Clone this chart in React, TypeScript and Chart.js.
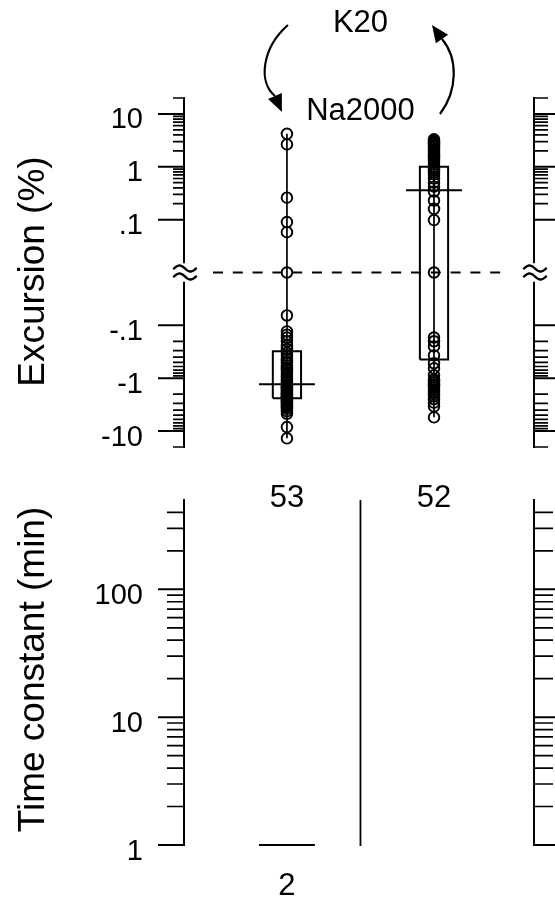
import React, { useEffect, useRef } from "react";
import { Chart, LinearScale, registerables } from "chart.js";

Chart.register(...registerables);

// ---------------- data ----------------
const transitions = ["K20 → Na2000", "Na2000 → K20"];
const solutionNames = ["K20", "Na2000"];

// excursion (%) of each response
const excursionK20ToNa2000 = [
  4.2, 2.65, 0.26, 0.09, 0.058, 0, -0.065,
  -0.13, -0.15, -0.17, -0.2, -0.24, -0.28,
  -0.33, -0.37, -0.42, -0.47, -0.52, -0.58, -0.64, -0.7, -0.78, -0.86, -0.95, -1.05, -1.18,
  -1.3,
  -1.38, -1.45, -1.52, -1.6, -1.68, -1.76, -1.85, -1.93, -2.0, -2.1, -2.2, -2.28, -2.36,
  -2.45, -2.55, -2.65, -2.8, -2.95, -3.1, -3.3, -3.5, -3.8, -4.2, -4.7,
  -8.4, -13.7,
];
const excursionNa2000ToK20 = [
  3.3, 3.15, 3.0, 2.85, 2.7, 2.55, 2.4, 2.25, 2.1, 1.95, 1.8, 1.7, 1.6, 1.5, 1.4, 1.3,
  1.2, 1.1, 1.0, 0.93, 0.86, 0.79, 0.72,
  0.6, 0.5, 0.42, 0.34, 0.23, 0.16, 0.098,
  0,
  -0.17, -0.2, -0.25, -0.37, -0.52, -0.65, -0.88,
  -1.05, -1.12, -1.2, -1.3, -1.4, -1.5, -1.65, -1.8, -2.0, -2.2, -2.5, -2.9, -3.4,
  -5.5,
];
const excursionUpperQuartile = [-0.31, 1.0];
const excursionMedian = [-1.3, 0.36];
const excursionLowerQuartile = [-2.4, -0.44];
const excursionCounts = ["53", "52"];

const timeConstantMedian: (number | null)[] = [1, null];
const timeConstantCounts = ["2", ""];

// axis ticks
const excursionRange = [-20, 20];
const excursionMajorTicks = [10, 1, 0.1, -0.1, -1, -10];
const excursionMajorLabels = ["10", "1", ".1", "-.1", "-1", "-10"];
const excursionMinorTicks = [
  20, 9, 8, 7, 6, 5, 4, 3, 2, 0.9, 0.8, 0.7, 0.6, 0.5, 0.4, 0.3, 0.2,
  -0.2, -0.3, -0.4, -0.5, -0.6, -0.7, -0.8, -0.9, -2, -3, -4, -5, -6, -7, -8, -9, -20,
];
const timeConstantRange = [1, 500];
const timeConstantMajorTicks = [1, 10, 100];
const timeConstantMajorLabels = ["1", "10", "100"];
const timeConstantMinorTicks = [2, 3, 4, 5, 6, 7, 8, 9, 20, 30, 40, 50, 60, 70, 80, 90, 200, 300, 400];

const excursionTitle = "Excursion (%)";
const timeConstantTitle = "Time constant (min)";

// ---------------- styles ----------------
const INK = "#000";
const FONT = '"Liberation Sans", Arial, Helvetica, sans-serif';
const TICK_FONT = 29;
const TITLE_FONT = 37;
const NOTE_FONT = 31;
const BOX_HALF = 0.096;
const MEDIAN_HALF = 0.19;
const X_MIN = -0.7;
const X_MAX = 1.68;

// symmetric log axis with a break at zero (|v| = 0.01 maps onto 0)
const toSymT = (v: number) => (v === 0 ? 0 : Math.sign(v) * (Math.log10(Math.abs(v)) + 2));

class SymLogBreakScale extends (LinearScale as any) {
  static id = "symlogbreak";
  static defaults = (LinearScale as any).defaults;
  getPixelForValue(value: any, index?: number) {
    if (value === null || value === undefined || Number.isNaN(value)) return NaN;
    return super.getPixelForValue(toSymT(value), index);
  }
}
Chart.register(SymLogBreakScale as any);

function drawBreak(ctx: CanvasRenderingContext2D, x: number, y: number) {
  ctx.save();
  ctx.fillStyle = "#fff";
  ctx.fillRect(x - 12, y - 9, 25, 18);
  ctx.strokeStyle = INK;
  ctx.lineWidth = 2.4;
  ctx.lineCap = "round";
  for (const dy of [-4, 4]) {
    ctx.beginPath();
    for (let s = -11; s <= 11; s += 0.5) {
      const px = x + 1 + s;
      const py = y + dy + 3 * Math.sin((Math.PI * s) / 11);
      if (s === -11) ctx.moveTo(px, py);
      else ctx.lineTo(px, py);
    }
    ctx.stroke();
  }
  ctx.restore();
}

function drawAxis(
  ctx: CanvasRenderingContext2D,
  x: number,
  top: number,
  bottom: number,
  dir: number,
  scale: any,
  majors: number[],
  minors: number[],
  majorLen: number,
  minorLen: number,
  breakY: number | null
) {
  ctx.save();
  ctx.strokeStyle = INK;
  ctx.lineCap = "square";
  ctx.lineWidth = 2;
  ctx.beginPath();
  if (breakY !== null) {
    ctx.moveTo(x, top);
    ctx.lineTo(x, breakY - 10);
    ctx.moveTo(x, breakY + 10);
    ctx.lineTo(x, bottom);
  } else {
    ctx.moveTo(x, top);
    ctx.lineTo(x, bottom);
  }
  ctx.stroke();
  ctx.lineCap = "butt";
  ctx.lineWidth = 2;
  ctx.beginPath();
  for (const v of majors) {
    const py = scale.getPixelForValue(v);
    ctx.moveTo(x, py);
    ctx.lineTo(x + dir * majorLen, py);
  }
  ctx.stroke();
  ctx.lineWidth = 1.7;
  ctx.beginPath();
  for (const v of minors) {
    const py = scale.getPixelForValue(v);
    ctx.moveTo(x, py);
    ctx.lineTo(x + dir * minorLen, py);
  }
  ctx.stroke();
  ctx.restore();
  if (breakY !== null) drawBreak(ctx, x, breakY);
}

function drawTickLabels(ctx: CanvasRenderingContext2D, x: number, scale: any, ticks: number[], labels: string[]) {
  ctx.save();
  ctx.fillStyle = INK;
  ctx.font = `${TICK_FONT}px ${FONT}`;
  ctx.textAlign = "right";
  ctx.textBaseline = "alphabetic";
  ticks.forEach((v, i) => {
    const py = scale.getPixelForValue(v);
    ctx.fillText(labels[i], x, py + 14.5);
  });
  ctx.restore();
}

function drawTitle(ctx: CanvasRenderingContext2D, text: string, baselineX: number, cy: number) {
  ctx.save();
  ctx.fillStyle = INK;
  ctx.font = `${TITLE_FONT}px ${FONT}`;
  ctx.translate(baselineX, cy);
  ctx.rotate(-Math.PI / 2);
  ctx.textAlign = "center";
  ctx.textBaseline = "alphabetic";
  ctx.fillText(text, 0, 0);
  ctx.restore();
}

function drawArrow(
  ctx: CanvasRenderingContext2D,
  p0: number[],
  c1: number[],
  c2: number[],
  p3: number[],
  tip: number[]
) {
  ctx.save();
  ctx.strokeStyle = INK;
  ctx.fillStyle = INK;
  ctx.lineWidth = 2.2;
  ctx.beginPath();
  ctx.moveTo(p0[0], p0[1]);
  ctx.bezierCurveTo(c1[0], c1[1], c2[0], c2[1], p3[0], p3[1]);
  ctx.stroke();
  const dx = tip[0] - p3[0];
  const dy = tip[1] - p3[1];
  const len = Math.hypot(dx, dy);
  const px = (-dy / len) * 7.5;
  const py = (dx / len) * 7.5;
  ctx.beginPath();
  ctx.moveTo(tip[0], tip[1]);
  ctx.lineTo(p3[0] + px, p3[1] + py);
  ctx.lineTo(p3[0] - px, p3[1] - py);
  ctx.closePath();
  ctx.fill();
  ctx.restore();
}

const excursionPlugin = {
  id: "excursionDecor",
  beforeDatasetsDraw(chart: any) {
    const { ctx, chartArea: a, scales } = chart;
    const zeroY = scales.y.getPixelForValue(0);
    ctx.save();
    ctx.strokeStyle = INK;
    ctx.lineWidth = 1.8;
    ctx.setLineDash([10, 9.8]);
    ctx.beginPath();
    ctx.moveTo(a.left + 29, zeroY);
    ctx.lineTo(a.right - 33, zeroY);
    ctx.stroke();
    ctx.restore();
  },
  afterDraw(chart: any) {
    const { ctx, chartArea: a, scales } = chart;
    const ys = scales.y;
    const xs = scales.x;
    const zeroY = ys.getPixelForValue(0);
    drawAxis(ctx, a.left, a.top, a.bottom, -1, ys, excursionMajorTicks, excursionMinorTicks, 26, 11, zeroY);
    drawAxis(ctx, a.right, a.top, a.bottom, 1, ys, excursionMajorTicks, excursionMinorTicks, 24, 14, zeroY);
    drawTickLabels(ctx, a.left - 41, ys, excursionMajorTicks, excursionMajorLabels);
    drawTitle(ctx, excursionTitle, 44, (a.top + a.bottom) / 2 - 1);

    const x0 = xs.getPixelForValue(0);
    const x1 = xs.getPixelForValue(1);
    const xm = xs.getPixelForValue(0.5);
    ctx.save();
    ctx.fillStyle = INK;
    ctx.font = `${NOTE_FONT}px ${FONT}`;
    ctx.textAlign = "center";
    ctx.textBaseline = "middle";
    ctx.fillText(solutionNames[0], xm, 23);
    ctx.fillText(solutionNames[1], xm, 111);
    ctx.restore();
    drawArrow(ctx, [x0 + 1, 25], [x0 - 25, 48], [x0 - 29, 82], [x0 - 12, 96], [x0 - 5, 112]);
    drawArrow(ctx, [x1 + 6, 114], [x1 + 24, 90], [x1 + 24, 58], [x1 + 8, 39], [x1 - 2, 25]);
  },
};

const timeConstantPlugin = {
  id: "timeConstantDecor",
  afterDraw(chart: any) {
    const { ctx, chartArea: a, scales } = chart;
    const ys = scales.y;
    const xs = scales.x;
    drawAxis(ctx, a.left, a.top, a.bottom, -1, ys, timeConstantMajorTicks, timeConstantMinorTicks, 26, 17, null);
    drawAxis(ctx, a.right, a.top, a.bottom, 1, ys, timeConstantMajorTicks, timeConstantMinorTicks, 22, 19, null);
    drawTickLabels(ctx, a.left - 41, ys, timeConstantMajorTicks, timeConstantMajorLabels);
    drawTitle(ctx, timeConstantTitle, 44, (a.top + a.bottom) / 2 - 3);

    // divider between the two transitions
    const xd = xs.getPixelForValue(0.5);
    ctx.save();
    ctx.strokeStyle = INK;
    ctx.lineWidth = 1.8;
    ctx.beginPath();
    ctx.moveTo(xd, a.top);
    ctx.lineTo(xd, a.bottom + 1);
    ctx.stroke();

    ctx.fillStyle = INK;
    ctx.font = `${NOTE_FONT}px ${FONT}`;
    ctx.textAlign = "center";
    ctx.textBaseline = "middle";
    excursionCounts.forEach((t, i) => ctx.fillText(t, xs.getPixelForValue(i), a.top - 2));
    timeConstantCounts.forEach((t, i) => {
      if (t) ctx.fillText(t, xs.getPixelForValue(i), a.bottom + 41);
    });
    ctx.restore();
  },
};

function lineStyle(width: number) {
  return {
    showLine: true,
    borderColor: INK,
    borderWidth: width,
    pointRadius: 0,
    pointHoverRadius: 0,
    tension: 0,
    clip: false as any,
  };
}

function topConfig(): any {
  const series = [excursionK20ToNa2000, excursionNa2000ToK20];
  const datasets: any[] = [];
  series.forEach((vals, i) => {
    datasets.push({
      label: transitions[i],
      data: [...vals].sort((p, q) => q - p).map((v) => ({ x: i, y: v })),
      showLine: true,
      borderColor: INK,
      borderWidth: 1.7,
      pointRadius: 5.3,
      pointBorderWidth: 1.9,
      pointBackgroundColor: "rgba(0,0,0,0)",
      pointBorderColor: INK,
      clip: false,
    });
    const l = i - BOX_HALF;
    const r = i + BOX_HALF;
    datasets.push({
      label: transitions[i] + " quartiles",
      data: [
        { x: l, y: excursionLowerQuartile[i] },
        { x: r, y: excursionLowerQuartile[i] },
        { x: r, y: excursionUpperQuartile[i] },
        { x: l, y: excursionUpperQuartile[i] },
        { x: l, y: excursionLowerQuartile[i] },
      ],
      ...lineStyle(2),
    });
    datasets.push({
      label: transitions[i] + " median",
      data: [
        { x: i - MEDIAN_HALF, y: excursionMedian[i] },
        { x: i + MEDIAN_HALF, y: excursionMedian[i] },
      ],
      ...lineStyle(2),
    });
  });
  return {
    type: "scatter",
    data: { datasets },
    options: {
      animation: false,
      responsive: false,
      devicePixelRatio: 1,
      events: [],
      layout: { padding: { left: 184, right: 21, top: 98, bottom: 23 } },
      plugins: { legend: { display: false }, tooltip: { enabled: false }, title: { display: false } },
      scales: {
        x: { type: "linear", min: X_MIN, max: X_MAX, display: false },
        y: {
          type: "symlogbreak",
          min: toSymT(excursionRange[0]),
          max: toSymT(excursionRange[1]),
          display: false,
        },
      },
    },
    plugins: [excursionPlugin],
  };
}

function bottomConfig(): any {
  const datasets: any[] = [];
  timeConstantMedian.forEach((m, i) => {
    if (m === null) return;
    datasets.push({
      label: transitions[i] + " time constant",
      data: [
        { x: i - MEDIAN_HALF, y: m },
        { x: i + MEDIAN_HALF, y: m },
      ],
      ...lineStyle(2),
    });
  });
  return {
    type: "scatter",
    data: { datasets },
    options: {
      animation: false,
      responsive: false,
      devicePixelRatio: 1,
      events: [],
      layout: { padding: { left: 184, right: 21, top: 30, bottom: 55 } },
      plugins: { legend: { display: false }, tooltip: { enabled: false }, title: { display: false } },
      scales: {
        x: { type: "linear", min: X_MIN, max: X_MAX, display: false },
        y: { type: "logarithmic", min: timeConstantRange[0], max: timeConstantRange[1], display: false },
      },
    },
    plugins: [timeConstantPlugin],
  };
}

export default function App() {
  const topRef = useRef<HTMLCanvasElement>(null);
  const bottomRef = useRef<HTMLCanvasElement>(null);
  useEffect(() => {
    const charts: Chart[] = [];
    if (topRef.current) charts.push(new Chart(topRef.current, topConfig()));
    if (bottomRef.current) charts.push(new Chart(bottomRef.current, bottomConfig()));
    return () => charts.forEach((c) => c.destroy());
  }, []);
  return (
    <div style={{ position: "absolute", left: 0, top: 0, width: 555, height: 900, background: "#fff" }}>
      <canvas
        ref={topRef}
        width={555}
        height={470}
        style={{ position: "absolute", left: 0, top: 0, width: 555, height: 470 }}
      />
      <canvas
        ref={bottomRef}
        width={555}
        height={430}
        style={{ position: "absolute", left: 0, top: 470, width: 555, height: 430 }}
      />
    </div>
  );
}
